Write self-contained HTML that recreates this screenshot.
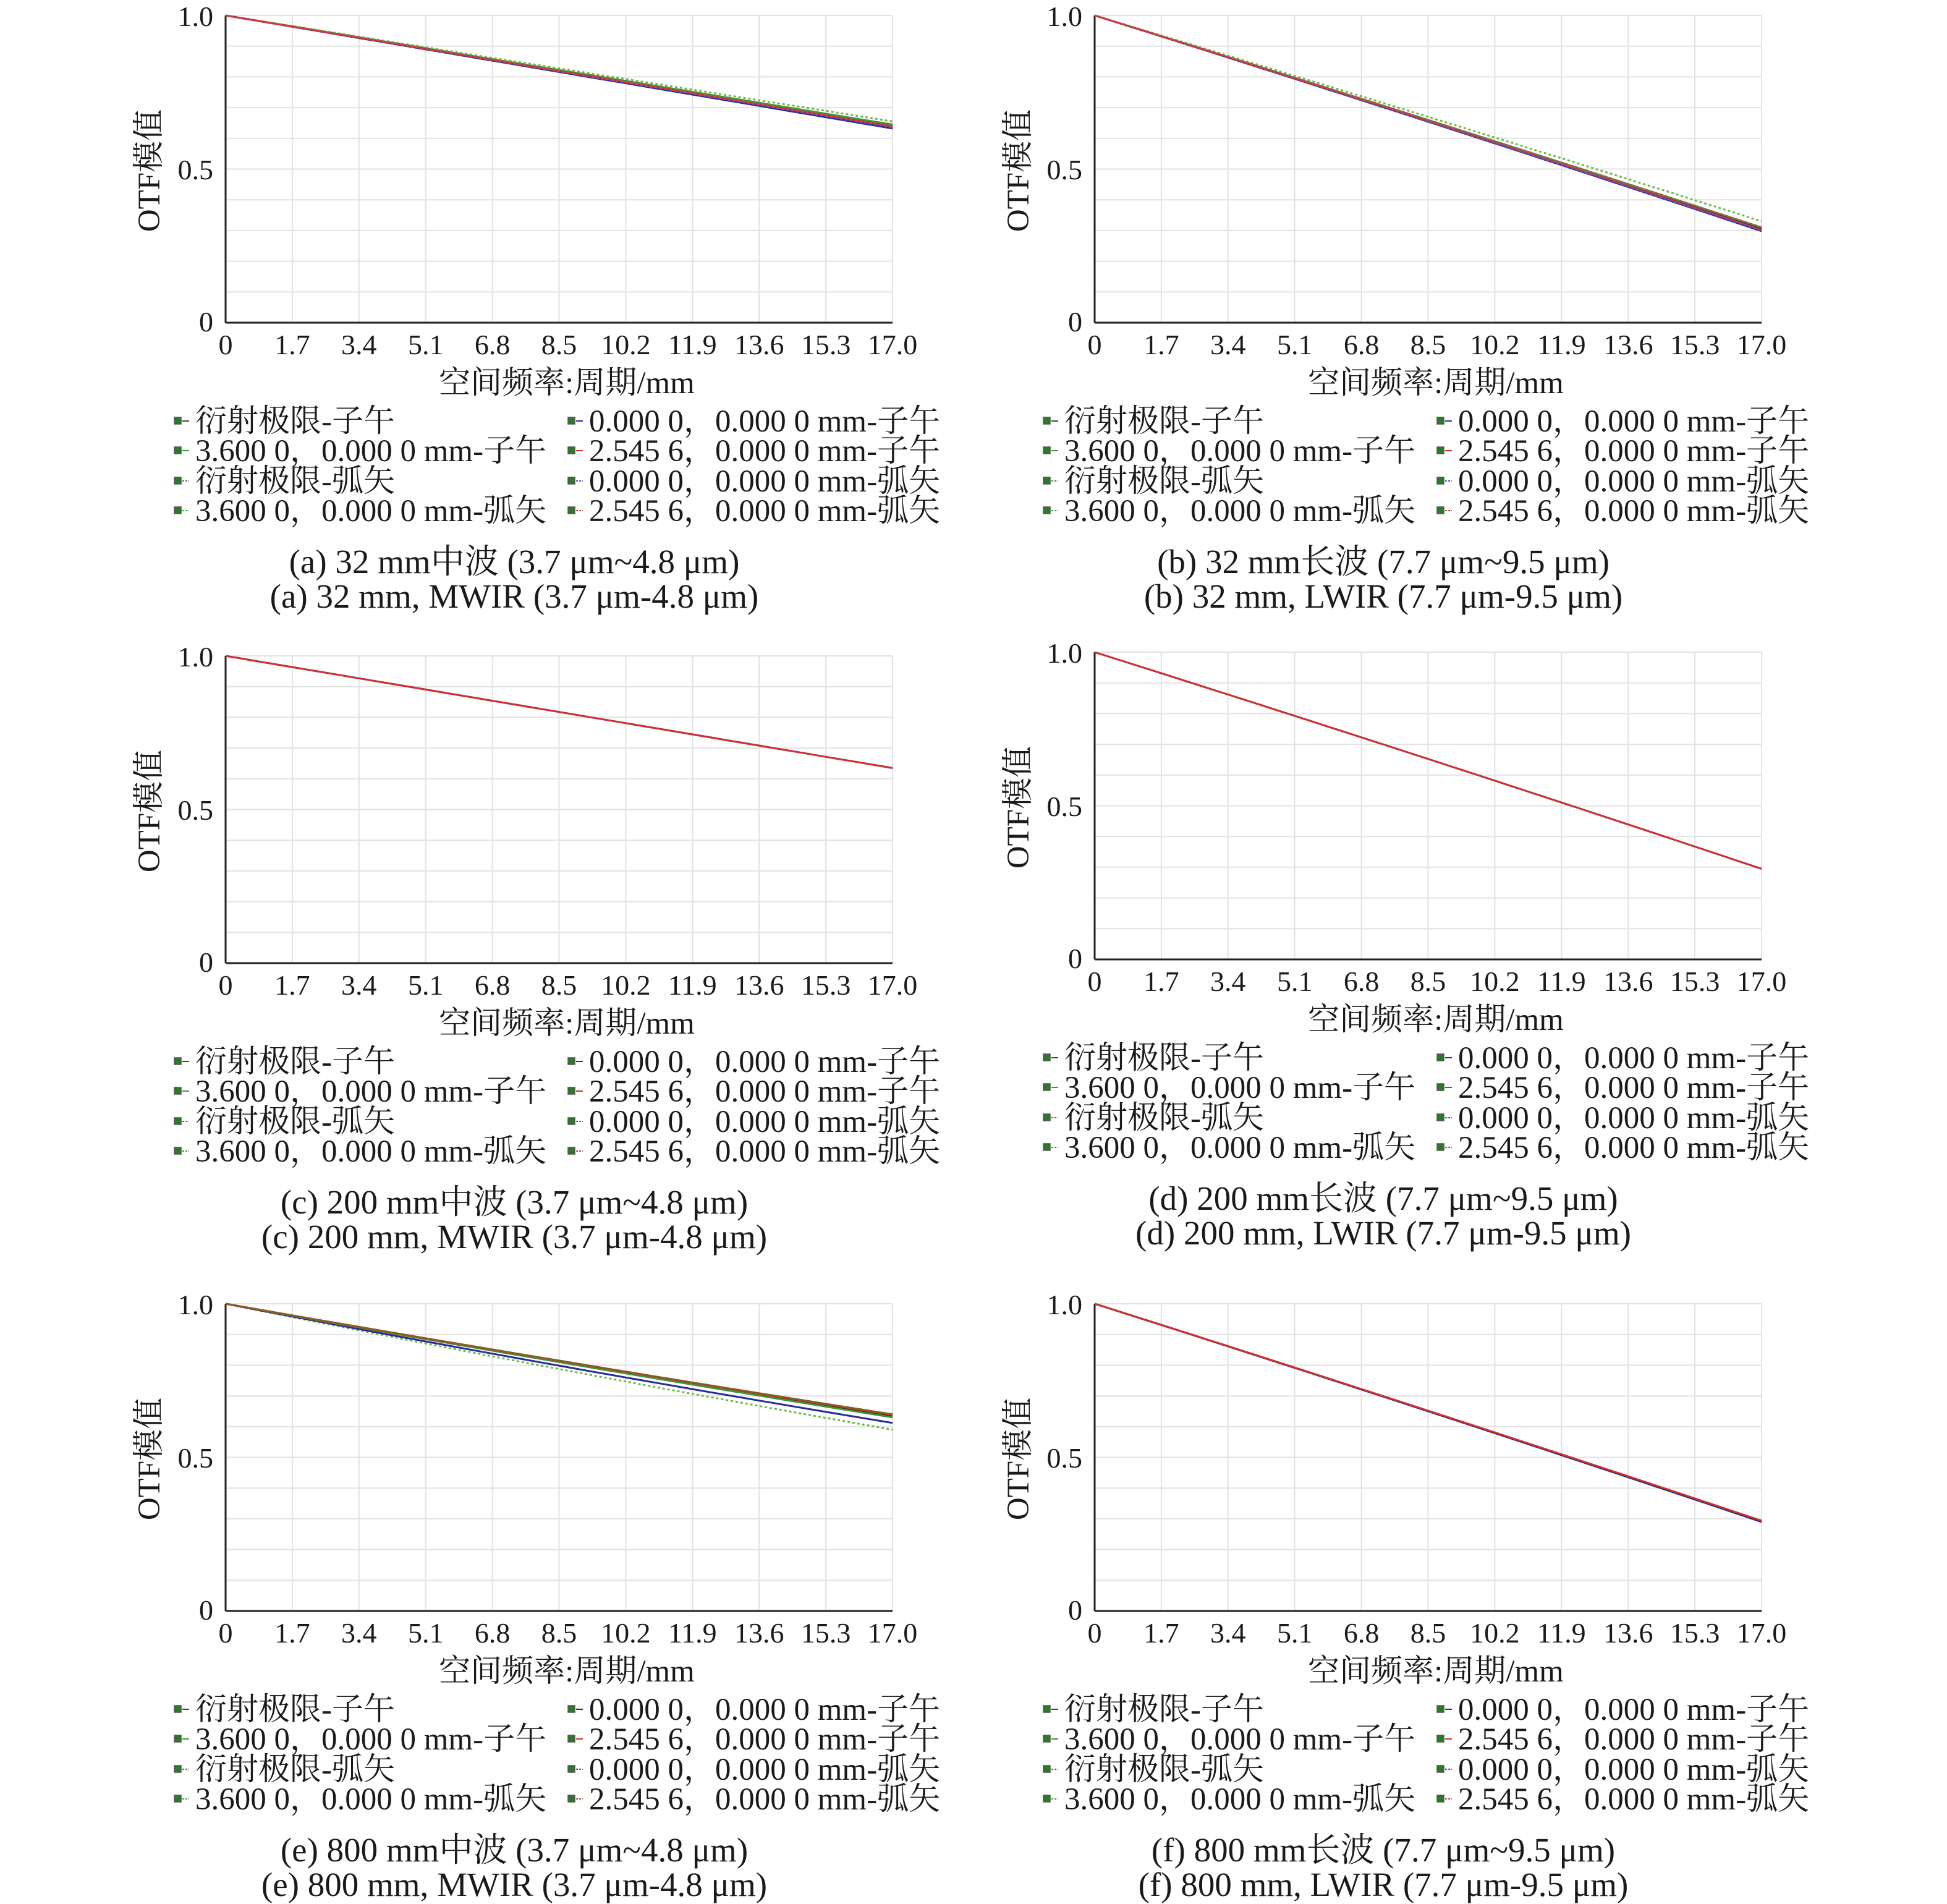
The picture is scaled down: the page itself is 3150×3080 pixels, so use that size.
<!DOCTYPE html>
<html><head><meta charset="utf-8">
<style>
html,body{margin:0;padding:0;background:#fff;}
svg{display:block;}
text{font-family:"Liberation Serif","Noto Serif CJK SC",serif;fill:#1a1a1a;}
</style></head>
<body>
<svg id="s" xmlns="http://www.w3.org/2000/svg" width="3150" height="3080" viewBox="0 0 3150 3080"></svg>
<script>
const S=document.getElementById('s');
let out='';
const panels=[
 {dx:0,dy:0,c1:'(a) 32 mm中波 (3.7 μm~4.8 μm)',c2:'(a) 32 mm, MWIR (3.7 μm-4.8 μm)',
  ser:[['#222',0.64,0,''],['#3a9a3a',0.645,0,''],['#2a2aa0',0.632,0,''],['#d03030',0.638,0,''],['#66bb44',0.655,0,'4 4'],['#5555cc',0.636,0,'4 4'],['#cc4444',0.64,0,'4 4']]},
 {dx:1406,dy:0,c1:'(b) 32 mm长波 (7.7 μm~9.5 μm)',c2:'(b) 32 mm, LWIR (7.7 μm-9.5 μm)',
  ser:[['#222',0.305,0.02,''],['#3a9a3a',0.31,0.02,''],['#2a2aa0',0.298,0.02,''],['#d03030',0.302,0.02,''],['#66bb44',0.33,0.02,'4 4'],['#5555cc',0.3,0.02,'4 4'],['#cc4444',0.31,0.02,'4 4']]},
 {dx:0,dy:1036,c1:'(c) 200 mm中波 (3.7 μm~4.8 μm)',c2:'(c) 200 mm, MWIR (3.7 μm-4.8 μm)',
  ser:[['#2a2aa0',0.635,0,''],['#d03030',0.635,0,'']]},
 {dx:1406,dy:1030,c1:'(d) 200 mm长波 (7.7 μm~9.5 μm)',c2:'(d) 200 mm, LWIR (7.7 μm-9.5 μm)',
  ser:[['#2a2aa0',0.295,0.02,''],['#d03030',0.295,0.02,'']]},
 {dx:0,dy:2084,c1:'(e) 800 mm中波 (3.7 μm~4.8 μm)',c2:'(e) 800 mm, MWIR (3.7 μm-4.8 μm)',
  ser:[['#66bb44',0.59,-0.03,'4 4'],['#2a2aa0',0.612,-0.03,''],['#222',0.635,-0.02,''],['#3a9a3a',0.63,-0.02,''],['#d03030',0.638,-0.02,''],['#8a5a20',0.64,-0.02,'']]},
 {dx:1406,dy:2084,c1:'(f) 800 mm长波 (7.7 μm~9.5 μm)',c2:'(f) 800 mm, LWIR (7.7 μm-9.5 μm)',
  ser:[['#66bb44',0.292,0.02,'4 4'],['#2a2aa0',0.29,0.02,''],['#222',0.293,0.02,''],['#d03030',0.294,0.02,'']]}
];
const x0=365,x1=1444,y0=25,y1=522;
const X=v=>x0+(x1-x0)*v/17, Y=v=>y1-(y1-y0)*v;
const leg=[['衍射极限-子午','0.000 0，0.000 0 mm-子午'],['3.600 0，0.000 0 mm-子午','2.545 6，0.000 0 mm-子午'],['衍射极限-弧矢','0.000 0，0.000 0 mm-弧矢'],['3.600 0，0.000 0 mm-弧矢','2.545 6，0.000 0 mm-弧矢']];
const lc=[['#444','#2a2aa0'],['#3a9a3a','#d03030'],['#666','#5555cc'],['#3a9a3a','#cc4444']];
for(const p of panels){
 out+=`<g transform="translate(${p.dx},${p.dy})">`;
 for(let i=1;i<=10;i++){const x=X(1.7*i);out+=`<line x1="${x}" y1="${y0}" x2="${x}" y2="${y1}" stroke="#e2e2e2" stroke-width="2"/>`;}
 for(let i=1;i<=10;i++){const y=Y(i/10);out+=`<line x1="${x0}" y1="${y}" x2="${x1}" y2="${y}" stroke="#e2e2e2" stroke-width="2"/>`;}
 out+=`<line x1="${x0}" y1="${y0}" x2="${x0}" y2="${y1}" stroke="#222" stroke-width="3"/>`;
 out+=`<line x1="${x0}" y1="${y1}" x2="${x1}" y2="${y1}" stroke="#222" stroke-width="3"/>`;
 for(const s of p.ser){
  const [c,e,k,d]=s;let pts=[];
  for(let i=0;i<=40;i++){const t=i/40;pts.push(`${X(17*t).toFixed(1)},${Y(1-(1-e)*t+k*t*(1-t)).toFixed(1)}`);}
  out+=`<polyline points="${pts.join(' ')}" fill="none" stroke="${c}" stroke-width="3" ${d?`stroke-dasharray="${d}"`:''}/>`;
 }
 out+=`<text x="345" y="42" font-size="46" text-anchor="end">1.0</text>`;
 out+=`<text x="345" y="290" font-size="46" text-anchor="end">0.5</text>`;
 out+=`<text x="345" y="536" font-size="46" text-anchor="end">0</text>`;
 const xl=['0','1.7','3.4','5.1','6.8','8.5','10.2','11.9','13.6','15.3','17.0'];
 xl.forEach((t,i)=>{out+=`<text x="${X(1.7*i)}" y="573" font-size="46" text-anchor="middle">${t}</text>`;});
 out+=`<text x="917" y="636" font-size="51" text-anchor="middle">空间频率:周期/mm</text>`;
 out+=`<text transform="translate(258,276) rotate(-90)" font-size="51" text-anchor="middle">OTF模值</text>`;
 [681,729,778,826].forEach((y,r)=>{
  [[282,316],[919,953]].forEach((c,ci)=>{
   out+=`<rect x="${c[0]}" y="${y-6}" width="11" height="11" fill="#2a7a2a" stroke="#555" stroke-width="1.5"/>`;
   out+=`<line x1="${c[0]+13}" y1="${y}" x2="${c[0]+24}" y2="${y}" stroke="${lc[r][ci]}" stroke-width="2" ${r>=2?'stroke-dasharray="3 2"':''}/>`;
   out+=`<text x="${c[1]}" y="${y+17}" font-size="51">${leg[r][ci]}</text>`;
  });
 });
 out+=`<text x="832" y="927" font-size="55" text-anchor="middle">${p.c1}</text>`;
 out+=`<text x="832" y="983" font-size="55" text-anchor="middle">${p.c2}</text>`;
 out+='</g>';
}
S.innerHTML=out;
</script>
</body></html>
